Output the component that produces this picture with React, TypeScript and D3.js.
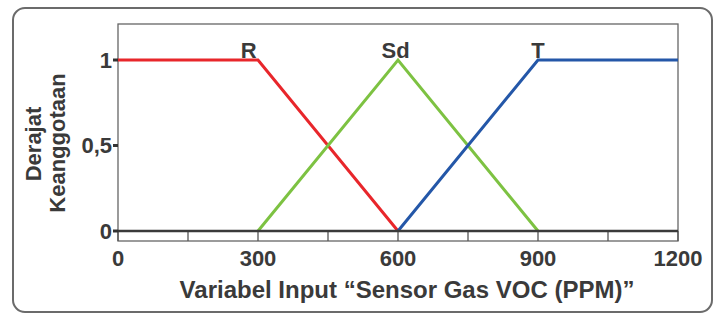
import React from "react";
import * as d3 from "d3";

const xTicksMajor = [0, 300, 600, 900, 1200];
const xTicksMinor = [0, 150, 300, 450, 600, 750, 900, 1050, 1200];
const yTicks = [0, 0.5, 1];
const yTickLabels = ["0", "0,5", "1"];

const seriesR = [
  { x: 0, y: 1 },
  { x: 300, y: 1 },
  { x: 600, y: 0 },
];
const seriesSd = [
  { x: 300, y: 0 },
  { x: 600, y: 1 },
  { x: 900, y: 0 },
];
const seriesT = [
  { x: 600, y: 0 },
  { x: 900, y: 1 },
  { x: 1200, y: 1 },
];
const seriesNames = ["R", "Sd", "T"];
const seriesLabelX = [280, 595, 900];
const seriesColors = ["#e8262b", "#7dc242", "#2457a8"];

const xTitle = "Variabel Input \u201cSensor Gas VOC (PPM)\u201d";
const yTitle1 = "Derajat";
const yTitle2 = "Keanggotaan";

export default function App() {
  const W = 718;
  const H = 315;
  const x = d3.scaleLinear().domain([0, 1200]).range([118, 678]);
  const y = d3.scaleLinear().domain([0, 1]).range([231, 60]);
  const line = d3
    .line<{ x: number; y: number }>()
    .x((d) => x(d.x))
    .y((d) => y(d.y));
  const all = [seriesR, seriesSd, seriesT];
  const textColor = "#3a3a3a";
  const font = "'Liberation Sans', Arial, Helvetica, sans-serif";
  return (
    <svg
      width={W}
      height={H}
      style={{ position: "absolute", left: 0, top: 0, background: "#fff" }}
      fontFamily={font}
    >
      <rect x={13} y={8} width={699} height={304} rx={12} fill="#fff" stroke="#6b6b6b" strokeWidth={2} />
      {/* plot frame */}
      <rect x={118} y={24} width={560} height={217} fill="none" stroke="#666" strokeWidth={1.3} />
      {/* minor ticks in strip */}
      {xTicksMinor.map((t) => (
        <line key={"m" + t} x1={x(t)} x2={x(t)} y1={231} y2={241} stroke="#555" strokeWidth={1.3} />
      ))}
      {/* series */}
      {all.map((s, i) => (
        <path key={i} d={line(s) || ""} fill="none" stroke={seriesColors[i]} strokeWidth={3} />
      ))}
      {/* baseline */}
      <line x1={118} x2={678} y1={y(0)} y2={y(0)} stroke="#3a3a3a" strokeWidth={2.6} />
      {/* y ticks */}
      {yTicks.map((t, i) => (
        <g key={"y" + t}>
          <line x1={113} x2={118} y1={y(t)} y2={y(t)} stroke="#333" strokeWidth={3} />
          <text x={112} y={y(t)} dy="0.36em" textAnchor="end" fontSize={22} fontWeight="bold" fill={textColor}>
            {yTickLabels[i]}
          </text>
        </g>
      ))}
      {/* x labels */}
      {xTicksMajor.map((t) => (
        <text key={"x" + t} x={x(t)} y={266} textAnchor="middle" fontSize={22} fontWeight="bold" fill={textColor}>
          {t}
        </text>
      ))}
      {/* series labels */}
      {seriesNames.map((n, i) => (
        <text key={n} x={x(seriesLabelX[i])} y={58} textAnchor="middle" fontSize={22} fontWeight="bold" fill={textColor}>
          {n}
        </text>
      ))}
      {/* axis titles */}
      <text x={407} y={298} textAnchor="middle" fontSize={24} fontWeight="bold" fill={textColor}>
        {xTitle}
      </text>
      <text transform={`translate(41,144) rotate(-90)`} textAnchor="middle" fontSize={22} fontWeight="bold" fill={textColor}>
        {yTitle1}
      </text>
      <text transform={`translate(65,143) rotate(-90)`} textAnchor="middle" fontSize={22} fontWeight="bold" fill={textColor}>
        {yTitle2}
      </text>
    </svg>
  );
}
